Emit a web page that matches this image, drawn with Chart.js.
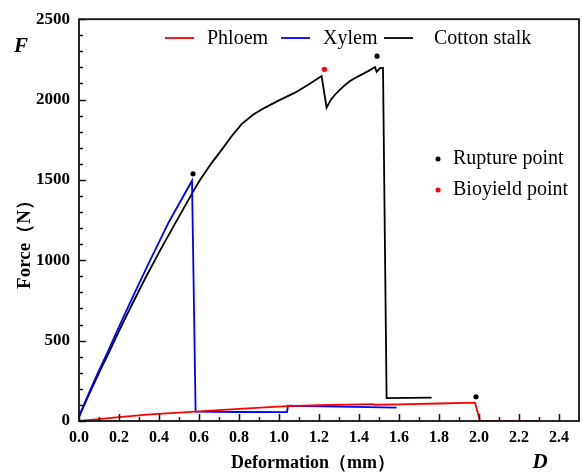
<!DOCTYPE html>
<html>
<head>
<meta charset="utf-8">
<script src="https://cdn.jsdelivr.net/npm/chart.js@4.4.1/dist/chart.umd.min.js"></script>
<style>
    html, body { margin: 0; padding: 0; background: #fff; }
    #wrap { width: 583px; height: 475px; }
</style>
</head>
<body>
<div id="wrap"><canvas id="myChart" width="583" height="475"></canvas></div>
<script>
// datos (deformacion en mm, fuerza en N)
const phloemX = [0, 0.1, 0.2, 0.355, 0.5, 0.6, 0.8, 1.04, 1.2, 1.47, 1.48, 1.6, 1.8, 1.98, 2.005, 2.3];
const phloemY = [0, 12, 24, 41, 52, 60, 76, 92, 98, 105, 101, 104, 109, 114, 0, 0];

const xylemX = [0, 0.05, 0.1, 0.138, 0.19, 0.238, 0.3, 0.35, 0.45, 0.565, 0.583, 0.8, 1.04, 1.045, 1.3, 1.588];
const xylemY = [30, 175, 315, 415, 560, 690, 855, 985, 1240, 1495, 58, 56, 55, 95, 90, 83];

const cottonX = [0, 0.05, 0.1, 0.147, 0.2, 0.255, 0.33, 0.405, 0.49, 0.572, 0.605, 0.66, 0.715,
    0.765, 0.813, 0.87, 0.93, 1.0, 1.08, 1.15, 1.213, 1.238, 1.25, 1.26, 1.28, 1.3, 1.325,
    1.355, 1.39, 1.42, 1.45, 1.48, 1.488, 1.505, 1.52, 1.538, 1.763];
const cottonY = [25, 165, 300, 420, 560, 700, 885, 1060, 1250, 1430, 1500, 1600, 1690,
    1775, 1847, 1905, 1950, 1995, 2043, 2095, 2146, 1950, 1978, 2000, 2030, 2055, 2085,
    2115, 2140, 2160, 2180, 2202, 2173, 2195, 2196, 142, 145];

const ruptureX = [0.57, 1.49, 1.985];
const ruptureY = [1538, 2270, 151];
const bioyieldX = [1.227];
const bioyieldY = [2188];

const serif = "'Liberation Serif', 'Times New Roman', serif";

function toPoints(xs, ys) {
    return xs.map((x, i) => ({x: x, y: ys[i]}));
}

// ticks hacia adentro, marco y textos extra
const decorPlugin = {
    id: 'decor',
    afterDraw(chart) {
        const ctx = chart.ctx;
        const a = chart.chartArea;
        const sx = chart.scales.x;
        const sy = chart.scales.y;
        ctx.save();
        ctx.strokeStyle = '#111';
        ctx.lineWidth = 1.5;
        ctx.beginPath();
        for (let i = 0; i <= 24; i++) {
            const px = Math.round(sx.getPixelForValue(i / 10)) + 0.5;
            const len = i % 2 === 0 ? 7 : 4;
            ctx.moveTo(px, a.bottom);
            ctx.lineTo(px, a.bottom - len);
        }
        for (let v = 0; v <= 2500; v += 100) {
            const py = Math.round(sy.getPixelForValue(v)) + 0.5;
            const len = v % 500 === 0 ? 7 : 4;
            ctx.moveTo(a.left, py);
            ctx.lineTo(a.left + len, py);
        }
        ctx.stroke();
        ctx.lineWidth = 1.8;
        ctx.strokeRect(a.left, a.top, a.right - a.left, a.bottom - a.top);

        // leyenda superior
        ctx.font = '20px ' + serif;
        ctx.textBaseline = 'middle';
        ctx.fillStyle = '#000';
        const items = [['Phloem', '#ff0000', 165, 207], ['Xylem', '#0000ff', 281, 323], ['Cotton stalk', '#000000', 384, 434]];
        items.forEach(it => {
            ctx.strokeStyle = it[1];
            ctx.lineWidth = 1.8;
            ctx.beginPath();
            ctx.moveTo(it[2], 38);
            ctx.lineTo(it[2] + 29, 38);
            ctx.stroke();
            ctx.fillText(it[0], it[3], 39);
        });

        // leyenda de puntos
        const dots = [['Rupture point', '#000000', 159], ['Bioyield point', '#ff0000', 190]];
        dots.forEach(d => {
            ctx.fillStyle = d[1];
            ctx.beginPath();
            ctx.arc(438, d[2], 2.5, 0, Math.PI * 2);
            ctx.fill();
            ctx.fillStyle = '#000';
            ctx.fillText(d[0], 453, d[2]);
        });

        // titulos de ejes
        ctx.textAlign = 'center';
        ctx.font = 'bold 18px ' + serif;
        ctx.fillText('Deformation（mm）', 313, 463);
        ctx.save();
        ctx.translate(25, 240);
        ctx.rotate(-Math.PI / 2);
        ctx.font = 'bold 19px ' + serif;
        ctx.fillText('Force（N）', 0, 0);
        ctx.restore();

        // letras F y D
        ctx.font = 'italic bold 21px ' + serif;
        ctx.fillText('F', 21, 47);
        ctx.fillText('D', 540, 463);
        ctx.restore();
    }
};

let myChart = null;
const ctx = document.getElementById('myChart');

myChart = new Chart(ctx, {
    type: 'line',
    data: {
        datasets: [{
            label: 'Phloem',
            data: toPoints(phloemX, phloemY),
            borderColor: '#ff0000',
            borderWidth: 1.8,
            pointRadius: 0,
            tension: 0,
            fill: false
        }, {
            label: 'Xylem',
            data: toPoints(xylemX, xylemY),
            borderColor: '#0000ff',
            borderWidth: 1.8,
            pointRadius: 0,
            tension: 0,
            fill: false
        }, {
            label: 'Cotton stalk',
            data: toPoints(cottonX, cottonY),
            borderColor: '#000000',
            borderWidth: 1.8,
            pointRadius: 0,
            tension: 0,
            fill: false
        }, {
            label: 'Rupture point',
            data: toPoints(ruptureX, ruptureY),
            showLine: false,
            pointRadius: 2.6,
            pointBackgroundColor: '#000',
            pointBorderWidth: 0
        }, {
            label: 'Bioyield point',
            data: toPoints(bioyieldX, bioyieldY),
            showLine: false,
            pointRadius: 2.6,
            pointBackgroundColor: '#ff0000',
            pointBorderWidth: 0
        }]
    },
    options: {
        responsive: false,
        animation: false,
        devicePixelRatio: 1,
        layout: { padding: { top: 18, right: 4, left: 0, bottom: 0 } },
        plugins: {
            legend: { display: false },
            tooltip: { enabled: false }
        },
        scales: {
            x: {
                type: 'linear',
                min: 0,
                max: 2.5,
                grid: { display: false, drawTicks: false },
                border: { display: false },
                ticks: {
                    stepSize: 0.2,
                    includeBounds: false,
                    padding: 7,
                    color: '#000',
                    maxRotation: 0,
                    font: { family: serif, size: 16, weight: 'bold' },
                    callback: v => v.toFixed(1)
                },
                afterFit: s => { s.height = 54; }
            },
            y: {
                min: 0,
                max: 2500,
                grid: { display: false, drawTicks: false },
                border: { display: false },
                ticks: {
                    stepSize: 500,
                    padding: 9,
                    color: '#000',
                    font: { family: serif, size: 17, weight: 'bold' },
                    callback: v => String(v)
                },
                afterFit: s => { s.width = 79; }
            }
        }
    },
    plugins: [decorPlugin]
});
</script>
</body>
</html>
